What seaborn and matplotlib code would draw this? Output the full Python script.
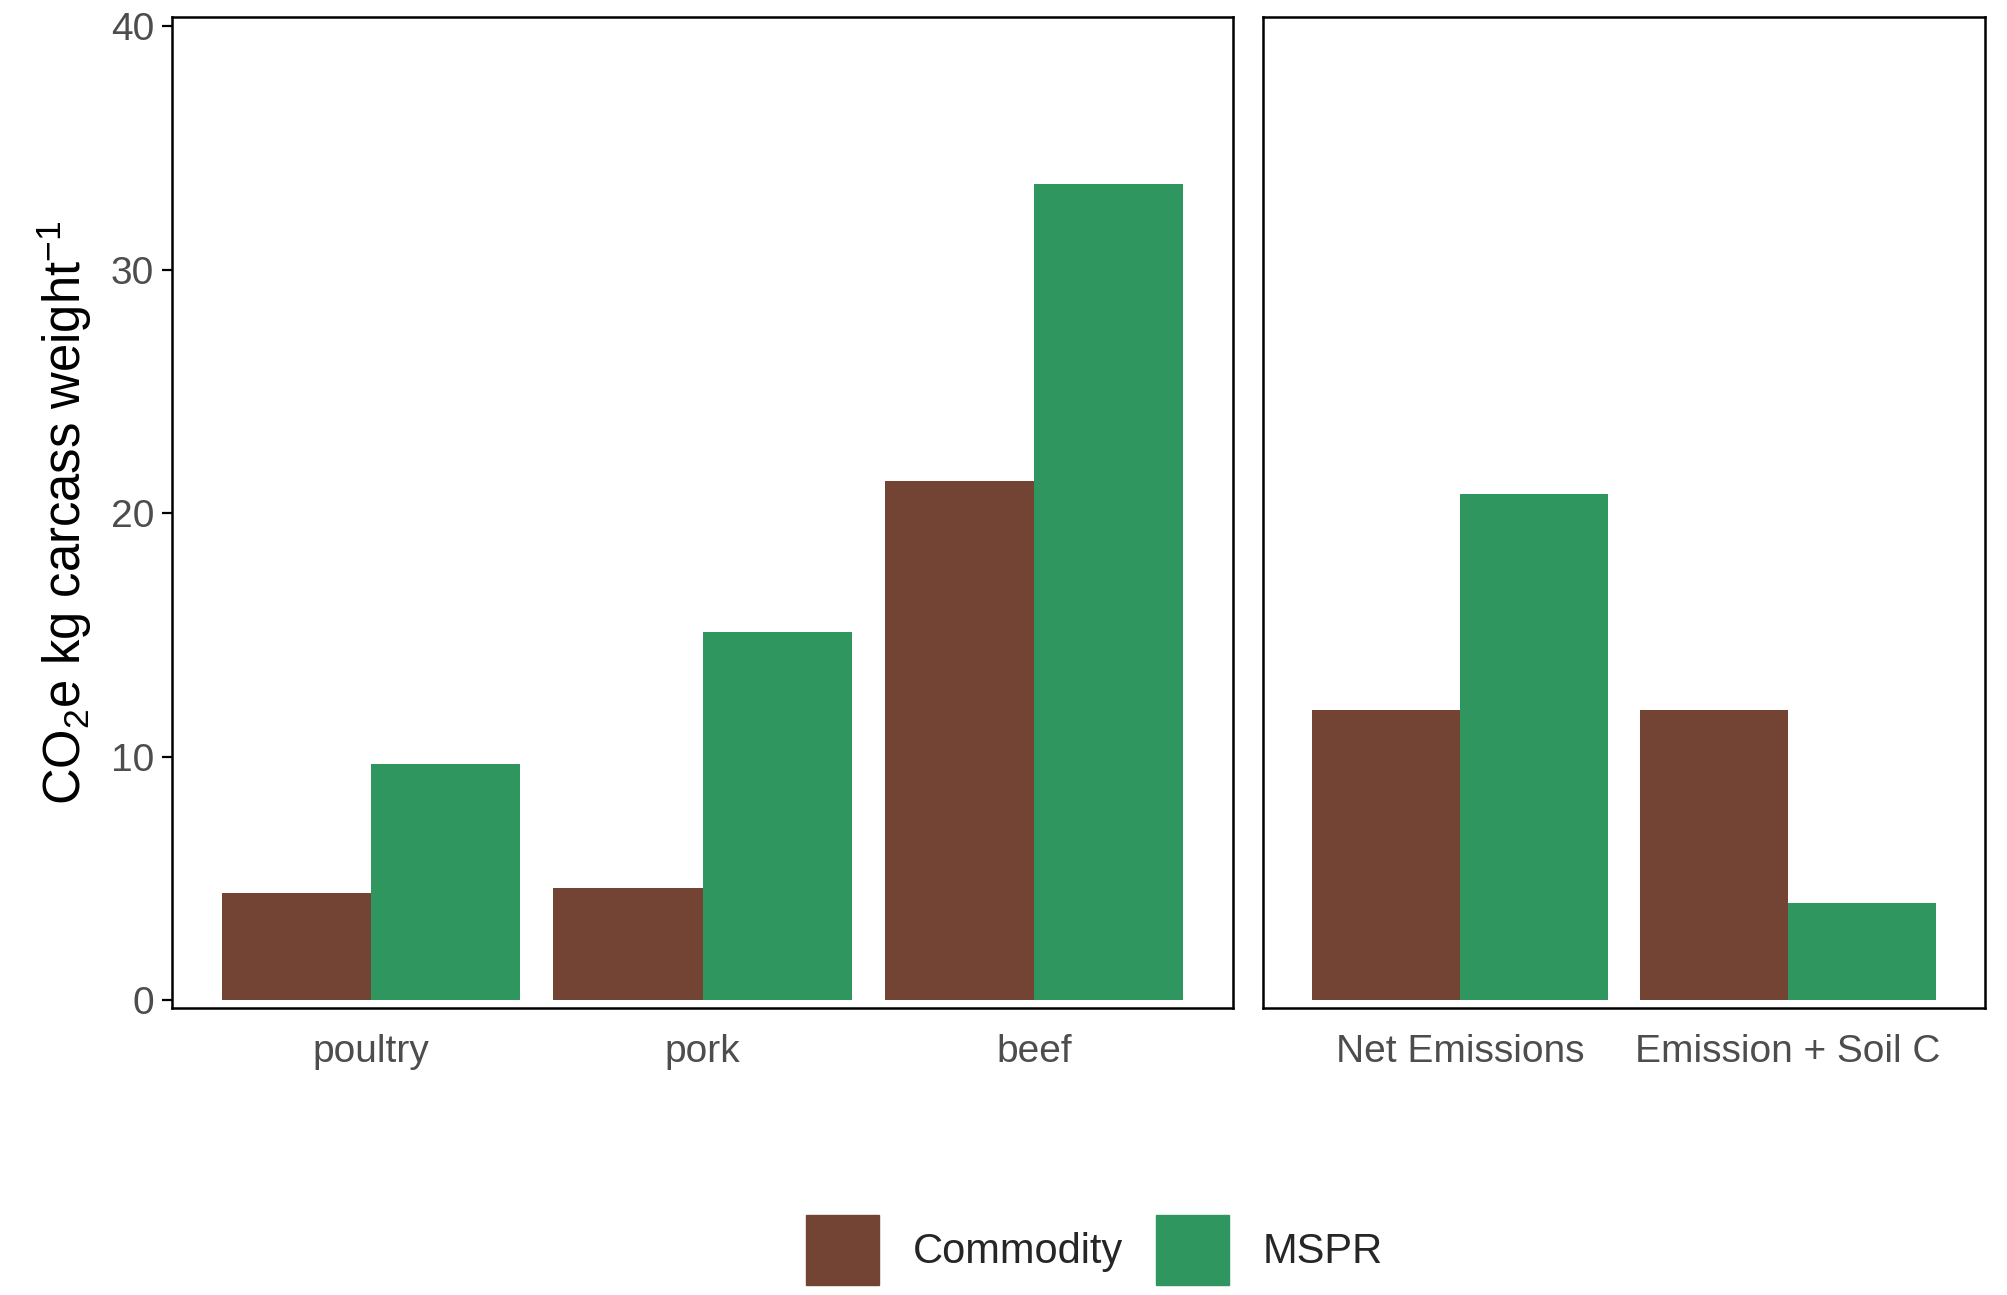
import pandas as pd
import numpy as np
import matplotlib.pyplot as plt
import matplotlib.patches as mpatches
import seaborn as sns

# values
species = ["poultry", "pork", "beef"]
species_commodity = [4.4, 4.6, 21.3]
species_mspr = [9.7, 15.1, 33.5]

scenarios = ["Net Emissions", "Emission + Soil C"]
scenario_commodity = [11.9, 11.9]
scenario_mspr = [20.8, 4.0]

systems = ["Commodity", "MSPR"]
colors = {"Commodity": "#734434", "MSPR": "#2E965E"}
yticks = [0, 10, 20, 30, 40]


def long_df(cats, commodity, mspr):
    return pd.DataFrame({
        "cat": cats * 2,
        "system": ["Commodity"] * len(cats) + ["MSPR"] * len(cats),
        "value": list(commodity) + list(mspr),
    })


sns.set_style("white")
plt.rcParams["font.family"] = ["Liberation Sans", "DejaVu Sans"]
plt.rcParams["mathtext.fontset"] = "custom"
plt.rcParams["mathtext.rm"] = "Liberation Sans"
plt.rcParams["mathtext.it"] = "Liberation Sans:italic"

fig = plt.figure(figsize=(20.08, 12.95), dpi=100)
ax1 = fig.add_axes([0.0857, 0.2216, 0.5284, 0.7653])
ax2 = fig.add_axes([0.629, 0.2216, 0.3596, 0.7653])

panels = [
    (ax1, long_df(species, species_commodity, species_mspr), species),
    (ax2, long_df(scenarios, scenario_commodity, scenario_mspr), scenarios),
]

for ax, df, cats in panels:
    sns.barplot(data=df, x="cat", y="value", hue="system", order=cats,
                hue_order=systems, palette=colors, width=0.9, gap=0,
                saturation=1, linewidth=0, ax=ax, legend=False)
    ax.set_xlim(-0.6, len(cats) - 0.4)
    ax.set_ylim(-0.32, 40.37)
    ax.set_xlabel("")
    ax.set_ylabel("")
    for s in ax.spines.values():
        s.set_visible(True)
        s.set_color("black")
        s.set_linewidth(1.8)
    ax.tick_params(axis="x", length=7, width=1.6, color="black", pad=12,
                   labelsize=28, labelcolor="#4D4D4D")

ax1.set_yticks(yticks)
ax1.tick_params(axis="y", left=True, length=7, width=1.6, color="black",
                pad=6, labelsize=28, labelcolor="#4D4D4D")
ax2.set_yticks([])

ax1.set_ylabel(r"CO$_2$e kg carcass weight$^{-1}$", fontsize=36.5,
               color="black", labelpad=12)

handles = [mpatches.Patch(color=colors[s], label=s) for s in systems]
fig.legend(handles=handles, loc="center", bbox_to_anchor=(0.545, 0.035),
           ncol=2, frameon=False, fontsize=30, handlelength=1.75,
           handleheight=2.2, handletextpad=0.8, columnspacing=0.8)

plt.savefig("out.png", dpi=100)
